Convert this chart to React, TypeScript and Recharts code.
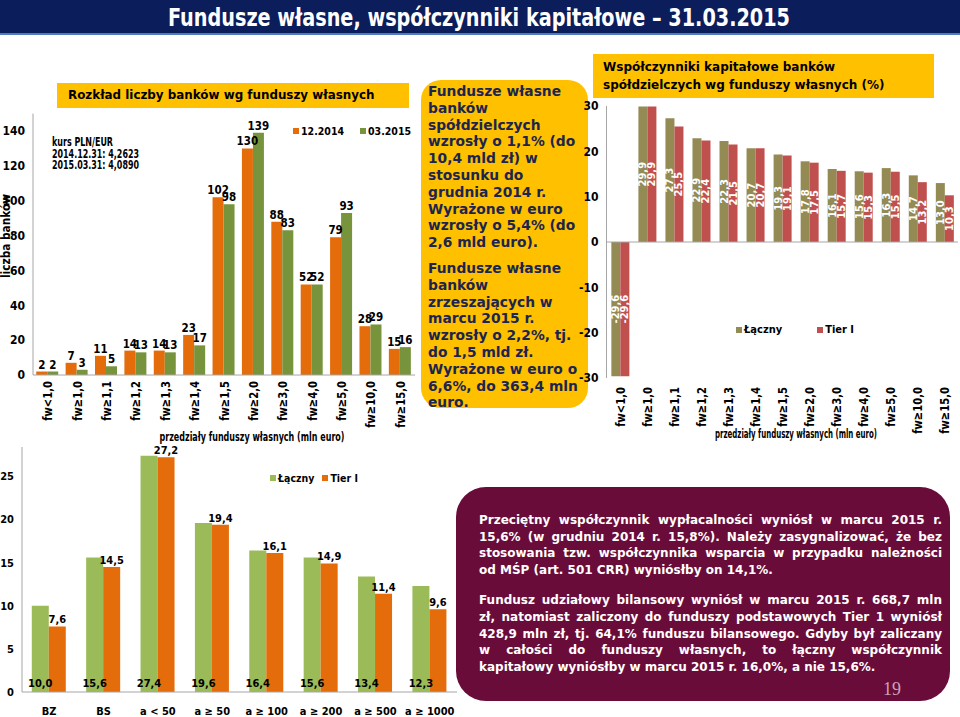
import React from "react";
import {
    BarChart,
    Bar,
    XAxis,
    YAxis,
    LabelList,
    Legend,
    ReferenceLine,
} from "recharts";

// przedziały funduszy własnych (mln euro)
const fwCategories = [
    "fw<1,0",
    "fw≥1,0",
    "fw≥1,1",
    "fw≥1,2",
    "fw≥1,3",
    "fw≥1,4",
    "fw≥1,5",
    "fw≥2,0",
    "fw≥3,0",
    "fw≥4,0",
    "fw≥5,0",
    "fw≥10,0",
    "fw≥15,0",
];
const banks2014 = [2, 7, 11, 14, 14, 23, 102, 130, 88, 52, 79, 28, 15];
const banks2015 = [2, 3, 5, 13, 13, 17, 98, 139, 83, 52, 93, 29, 16];
const banksTicks = [0, 20, 40, 60, 80, 100, 120, 140];

const ratioTotal = [-29.6, 29.9, 27.3, 22.9, 22.3, 20.7, 19.3, 17.8, 16.1, 15.6, 16.3, 14.7, 13.0];
const ratioTier1 = [-29.6, 29.9, 25.5, 22.4, 21.5, 20.7, 19.1, 17.5, 15.7, 15.3, 15.5, 13.2, 10.3];
const ratioTicks = [-30, -20, -10, 0, 10, 20, 30];

const groupCategories = ["BZ", "BS", "a < 50", "a ≥ 50", "a ≥ 100", "a ≥ 200", "a ≥ 500", "a ≥ 1000"];
const groupTotal = [10.0, 15.6, 27.4, 19.6, 16.4, 15.6, 13.4, 12.3];
const groupTier1 = [7.6, 14.5, 27.2, 19.4, 16.1, 14.9, 11.4, 9.6];
const groupTicks = [0, 5, 10, 15, 20, 25];

const COLORS = {
    navy: "#0B1E5B",
    yellow: "#FFC000",
    orange: "#E46C0A",
    olive: "#77933C",
    khaki: "#948A54",
    red: "#C0504D",
    lightGreen: "#9BBB59",
    maroon: "#6A0C3A",
    axis: "#A6A6A6",
};

const NARROW = '"Liberation Sans Narrow", "DejaVu Sans Condensed", sans-serif';
const WIDE = '"DejaVu Sans", Verdana, sans-serif';

const fmt = (v: number) => v.toFixed(1).replace(".", ",");

const banksData = fwCategories.map((name, i) => ({
    name,
    d2014: banks2014[i],
    d2015: banks2015[i],
}));
const ratioData = fwCategories.map((name, i) => ({
    name,
    total: ratioTotal[i],
    tier1: ratioTier1[i],
}));
const groupData = groupCategories.map((name, i) => ({
    name,
    total: groupTotal[i],
    tier1: groupTier1[i],
}));

// rotated category label, squeezed a bit to look like a narrow font
function RotatedTick(props: any) {
    const { x, y, payload, shift = 0 } = props;
    return (
        <text
            transform={`translate(${x},${y + shift}) rotate(-90) scale(0.86,1)`}
            textAnchor="end"
            dy="0.35em"
            fontFamily={NARROW}
            fontWeight={700}
            fontSize={13}
            fill="#000"
        >
            {payload.value}
        </text>
    );
}

function InsideRotatedLabel(props: any) {
    const { x, y, width, height, value } = props;
    const cx = x + width / 2;
    const cy = y + height / 2;
    return (
        <text
            transform={`translate(${cx},${cy}) rotate(-90)`}
            textAnchor="middle"
            dominantBaseline="central"
            fontFamily={WIDE}
            fontWeight={700}
            fontSize={10}
            fill="#fff"
        >
            {fmt(value)}
        </text>
    );
}

const legendContent =
    (items: { label: string; color: string }[], gap: number, size: number) => () => (
        <div
            style={{
                display: "flex",
                gap,
                fontFamily: NARROW,
                fontWeight: 700,
                fontSize: size,
                color: "#000",
                whiteSpace: "nowrap",
            }}
        >
            {items.map((it) => (
                <span key={it.label} style={{ display: "flex", alignItems: "center" }}>
                    <span
                        style={{
                            display: "inline-block",
                            width: 6,
                            height: 6,
                            background: it.color,
                            marginRight: 2,
                        }}
                    />
                    {it.label}
                </span>
            ))}
        </div>
    );

function JustifiedLines({ lines, style }: { lines: string[]; style: React.CSSProperties }) {
    return (
        <div style={style}>
            {lines.map((l, i) => (
                <div
                    key={i}
                    style={{
                        textAlign: "justify",
                        textAlignLast: i === lines.length - 1 ? "left" : "justify",
                        whiteSpace: "nowrap",
                    }}
                >
                    {l}
                </div>
            ))}
        </div>
    );
}

// free text drawn with a fixed length, so the narrow look of the slide is kept
function Fit(props: {
    x: number;
    y: number;
    len: number;
    size: number;
    anchor?: "start" | "middle" | "end";
    fill?: string;
    rotate?: boolean;
    children: string;
}) {
    const { x, y, len, size, anchor = "start", fill = "#000", rotate, children } = props;
    return (
        <text
            x={rotate ? 0 : x}
            y={rotate ? 0 : y}
            transform={rotate ? `translate(${x},${y}) rotate(-90)` : undefined}
            textAnchor={anchor}
            textLength={len}
            lengthAdjust="spacingAndGlyphs"
            fontFamily={NARROW}
            fontWeight={700}
            fontSize={size}
            fill={fill}
        >
            {children}
        </text>
    );
}

const abs = (left: number, top: number, extra: React.CSSProperties = {}): React.CSSProperties => ({
    position: "absolute",
    left,
    top,
    ...extra,
});

export default function App() {
    const tickStyle = { fontFamily: NARROW, fontWeight: 700, fontSize: 12, fill: "#000" };
    const valueStyle = { fontFamily: NARROW, fontWeight: 700, fontSize: 11.5, fill: "#000" };
    const groupValueStyle = { fontFamily: NARROW, fontWeight: 700, fontSize: 11, fill: "#000" };
    return (
        <div
            style={{
                position: "absolute",
                left: 0,
                top: 0,
                width: 960,
                height: 717,
                background: "#fff",
                overflow: "hidden",
            }}
        >
            {/* title bar */}
            <div
                style={abs(0, 0, {
                    width: 960,
                    height: 33,
                    background: COLORS.navy,
                    borderBottom: "2px solid #4F7BC0",
                })}
            />

            {/* top-left chart */}
            <div
                style={abs(57, 83, {
                    width: 352,
                    height: 25,
                    background: COLORS.yellow,
                    fontFamily: WIDE,
                    fontWeight: 700,
                    fontSize: 11.9,
                    lineHeight: "25px",
                    paddingLeft: 11,
                    boxSizing: "border-box",
                })}
            >
                Rozkład liczby banków wg funduszy własnych
            </div>
            <div style={abs(0, 100)}>
                <BarChart
                    width={420}
                    height={340}
                    data={banksData}
                    margin={{ top: 13.6, right: 5, left: 8, bottom: 15 }}
                    barGap={0}
                    barCategoryGap="11%"
                >
                    <XAxis
                        dataKey="name"
                        interval={0}
                        height={50}
                        axisLine={{ stroke: COLORS.axis }}
                        tickLine={false}
                        tick={<RotatedTick shift={-2} />}
                    />
                    <YAxis
                        domain={[0, 150]}
                        ticks={banksTicks}
                        width={25}
                        axisLine={{ stroke: COLORS.axis }}
                        tickLine={false}
                        tick={tickStyle}
                    />
                    <Legend
                        layout="horizontal"
                        verticalAlign="middle"
                        align="center"
                        wrapperStyle={{ left: 293, top: 25, width: "auto" }}
                        content={legendContent(
                            [
                                { label: "12.2014", color: COLORS.orange },
                                { label: "03.2015", color: COLORS.olive },
                            ],
                            16,
                            10.5
                        )}
                    />
                    <Bar dataKey="d2014" name="12.2014" fill={COLORS.orange} isAnimationActive={false}>
                        <LabelList dataKey="d2014" position="top" offset={3} style={valueStyle} />
                    </Bar>
                    <Bar dataKey="d2015" name="03.2015" fill={COLORS.olive} isAnimationActive={false}>
                        <LabelList dataKey="d2015" position="top" offset={3} style={valueStyle} />
                    </Bar>
                </BarChart>
            </div>

            {/* middle text box */}
            <div
                style={abs(421, 80, {
                    width: 167,
                    height: 328,
                    background: COLORS.yellow,
                    borderRadius: 20,
                    boxSizing: "border-box",
                    padding: "3px 0 0 7px",
                    fontFamily: WIDE,
                    fontWeight: 700,
                    fontSize: 13.8,
                    lineHeight: "16.8px",
                    color: "#1C2550",
                    whiteSpace: "nowrap",
                })}
            >
                Fundusze własne
                <br />
                banków
                <br />
                spółdzielczych
                <br />
                wzrosły o 1,1% (do
                <br />
                10,4 mld zł) w
                <br />
                stosunku do
                <br />
                grudnia 2014 r.
                <br />
                Wyrażone w euro
                <br />
                wzrosły o 5,4% (do
                <br />
                2,6 mld euro).
                <div style={{ height: 9 }} />
                Fundusze własne
                <br />
                banków
                <br />
                zrzeszających w
                <br />
                marcu 2015 r.
                <br />
                wzrosły o 2,2%, tj.
                <br />
                do 1,5 mld zł.
                <br />
                Wyrażone w euro o
                <br />
                6,6%, do 363,4 mln
                <br />
                euro.
            </div>

            {/* top-right chart */}
            <div
                style={abs(593, 54, {
                    width: 341,
                    height: 44,
                    background: COLORS.yellow,
                    fontFamily: WIDE,
                    fontWeight: 700,
                    fontSize: 12,
                    lineHeight: "18px",
                    padding: "4px 0 0 10px",
                    boxSizing: "border-box",
                })}
            >
                Współczynniki kapitałowe banków
                <br />
                spółdzielczych wg funduszy własnych (%)
            </div>
            <div style={abs(570, 90)}>
                <BarChart
                    width={390}
                    height={350}
                    data={ratioData}
                    margin={{ top: 16, right: 2, left: 6.5, bottom: 7 }}
                    barGap={0}
                    barCategoryGap="18%"
                >
                    <XAxis
                        dataKey="name"
                        interval={0}
                        height={55}
                        axisLine={false}
                        tickLine={false}
                        tick={<RotatedTick shift={1} />}
                    />
                    <YAxis
                        domain={[-30, 30]}
                        ticks={ratioTicks}
                        width={30}
                        axisLine={{ stroke: COLORS.axis }}
                        tickLine={false}
                        tick={tickStyle}
                    />
                    <ReferenceLine y={0} stroke={COLORS.axis} />
                    <Legend
                        layout="horizontal"
                        verticalAlign="middle"
                        align="center"
                        wrapperStyle={{ left: 166, top: 233, width: "auto" }}
                        content={legendContent(
                            [
                                { label: "Łączny", color: COLORS.khaki },
                                { label: "Tier I", color: COLORS.red },
                            ],
                            35,
                            11
                        )}
                    />
                    <Bar dataKey="total" name="Łączny" fill={COLORS.khaki} isAnimationActive={false}>
                        <LabelList dataKey="total" content={<InsideRotatedLabel />} />
                    </Bar>
                    <Bar dataKey="tier1" name="Tier I" fill={COLORS.red} isAnimationActive={false}>
                        <LabelList dataKey="tier1" content={<InsideRotatedLabel />} />
                    </Bar>
                </BarChart>
            </div>

            {/* bottom chart */}
            <div style={abs(0, 440)}>
                <BarChart
                    width={470}
                    height={277}
                    data={groupData}
                    margin={{ top: 7, right: 13, left: 0, bottom: 0 }}
                    barGap={0}
                    barCategoryGap="18%"
                >
                    <XAxis
                        dataKey="name"
                        interval={0}
                        height={25}
                        axisLine={{ stroke: COLORS.axis }}
                        tickLine={false}
                        tickMargin={9}
                        tick={{ ...tickStyle, fontSize: 11 }}
                    />
                    <YAxis
                        domain={[0, 28.4]}
                        ticks={groupTicks}
                        width={22}
                        axisLine={{ stroke: COLORS.axis }}
                        tickLine={false}
                        tick={{ ...tickStyle, fontSize: 11 }}
                    />
                    <Legend
                        layout="horizontal"
                        verticalAlign="middle"
                        align="center"
                        wrapperStyle={{ left: 270, top: 32, width: "auto" }}
                        content={legendContent(
                            [
                                { label: "Łączny", color: COLORS.lightGreen },
                                { label: "Tier I", color: COLORS.orange },
                            ],
                            8,
                            10.5
                        )}
                    />
                    <Bar dataKey="total" name="Łączny" fill={COLORS.lightGreen} isAnimationActive={false}>
                        <LabelList
                            dataKey="total"
                            position="insideBottom"
                            offset={5}
                            formatter={(v: any) => fmt(Number(v))}
                            style={groupValueStyle}
                        />
                    </Bar>
                    <Bar dataKey="tier1" name="Tier I" fill={COLORS.orange} isAnimationActive={false}>
                        <LabelList
                            dataKey="tier1"
                            position="top"
                            offset={3}
                            formatter={(v: any) => fmt(Number(v))}
                            style={groupValueStyle}
                        />
                    </Bar>
                </BarChart>
            </div>

            {/* bottom text box */}
            <div
                style={abs(456, 487, {
                    width: 494,
                    height: 214,
                    background: COLORS.maroon,
                    borderRadius: 30,
                    boxSizing: "border-box",
                    padding: "25px 8px 0 23px",
                    color: "#fff",
                    fontFamily: WIDE,
                    fontWeight: 700,
                    fontSize: 12,
                    lineHeight: "16.6px",
                })}
            >
                <JustifiedLines
                    style={{ width: 463 }}
                    lines={[
                        "Przeciętny współczynnik wypłacalności wyniósł w marcu 2015 r.",
                        "15,6% (w grudniu 2014 r. 15,8%). Należy zasygnalizować, że bez",
                        "stosowania tzw. współczynnika wsparcia w przypadku należności",
                        "od MŚP (art. 501 CRR) wyniósłby on 14,1%.",
                    ]}
                />
                <div style={{ height: 14 }} />
                <JustifiedLines
                    style={{ width: 463 }}
                    lines={[
                        "Fundusz udziałowy bilansowy wyniósł w marcu 2015 r. 668,7 mln",
                        "zł, natomiast zaliczony do funduszy podstawowych Tier 1 wyniósł",
                        "428,9 mln zł, tj. 64,1% funduszu bilansowego. Gdyby był zaliczany",
                        "w całości do funduszy własnych, to łączny współczynnik",
                        "kapitałowy wyniósłby w marcu 2015 r. 16,0%, a nie 15,6%.",
                    ]}
                />
                <div
                    style={abs(427, 192, {
                        fontFamily: '"Liberation Serif", "DejaVu Serif", serif',
                        fontWeight: 400,
                        fontSize: 18,
                        lineHeight: "20px",
                        color: "#C9A3B6",
                    })}
                >
                    19
                </div>
            </div>

            {/* loose texts of the slide */}
            <svg
                width={960}
                height={717}
                style={abs(0, 0, { pointerEvents: "none", overflow: "visible" })}
            >
                <Fit x={479} y={26} len={622} size={25} anchor="middle" fill="#fff">
                    Fundusze własne, współczynniki kapitałowe – 31.03.2015
                </Fit>
                <Fit x={52} y={146} len={61} size={12}>
                    kurs PLN/EUR
                </Fit>
                <Fit x={52} y={157.5} len={87} size={12}>
                    2014.12.31: 4,2623
                </Fit>
                <Fit x={52} y={169} len={87} size={12}>
                    2015.03.31: 4,0890
                </Fit>
                <Fit x={10} y={236} len={84} size={13} anchor="middle" rotate>
                    liczba banków
                </Fit>
                <Fit x={252} y={441} len={185} size={13} anchor="middle">
                    przedziały funduszy własnych (mln euro)
                </Fit>
                <Fit x={796} y={438} len={162} size={12.5} anchor="middle">
                    przedziały funduszy własnych (mln euro)
                </Fit>
            </svg>
        </div>
    );
}
